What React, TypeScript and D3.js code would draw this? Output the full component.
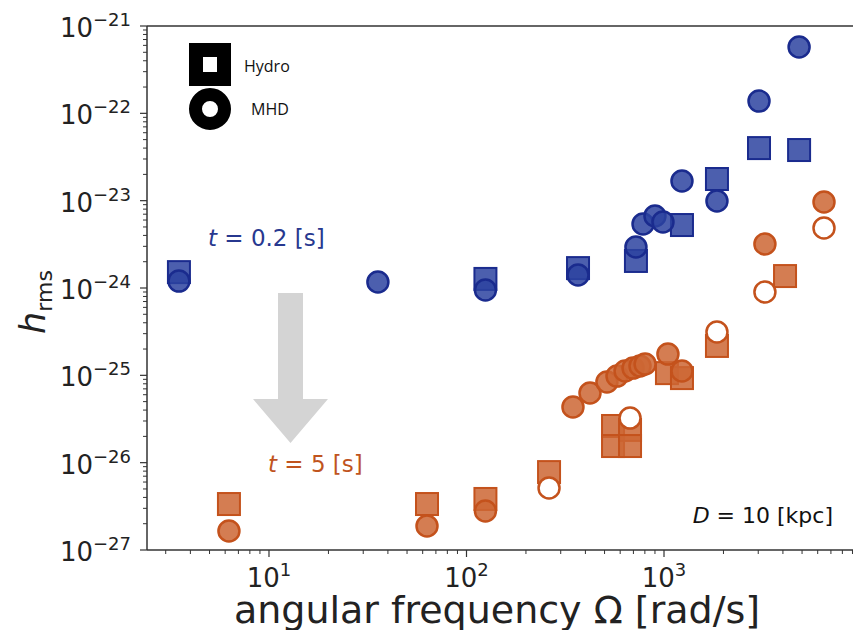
import React from "react";
import * as d3 from "d3";

// ---- Data ----
// [angular frequency Ω (rad/s), h_rms]
const blueHydro: [number, number][] = [
  [3.5, 1.52e-24], [124.7, 1.27e-24], [367, 1.69e-24], [721, 2.04e-24],
  [1233, 5.26e-24], [1854, 1.77e-23], [3027, 4.0e-23], [4830, 3.8e-23],
];
const blueMHD: [number, number][] = [
  [3.5, 1.2e-24], [35.6, 1.17e-24], [124.7, 9.5e-25], [367, 1.41e-24],
  [721, 2.95e-24], [783, 5.4e-24], [900, 6.67e-24], [988, 5.7e-24],
  [1233, 1.68e-23], [1854, 9.9e-24], [3027, 1.38e-22], [4830, 5.75e-22],
];
const orangeHydro: [number, number][] = [
  [6.27, 3.36e-27], [63.1, 3.36e-27], [124.7, 3.84e-27], [261.8, 7.8e-27],
  [552, 2.63e-26], [552, 1.55e-26], [673, 2.37e-26], [673, 1.55e-26],
  [1035, 1.06e-25], [1233, 9.3e-26], [1854, 2.17e-25], [4100, 1.37e-24],
];
const orangeMHD: [number, number][] = [
  [6.27, 1.65e-27], [63.1, 1.88e-27], [124.7, 2.8e-27], [346, 4.34e-26],
  [422, 6.28e-26], [514, 8.4e-26], [578, 9.8e-26], [635, 1.12e-25],
  [697, 1.21e-25], [756, 1.28e-25], [802, 1.35e-25], [1047, 1.75e-25],
  [1233, 1.12e-25], [3243, 3.19e-24], [6457, 9.66e-24],
];
const orangeMHDOpen: [number, number][] = [
  [261.8, 5.13e-27], [673, 3.24e-26], [1854, 3.13e-25], [3243, 9.0e-25], [6457, 4.86e-24],
];
const yTickExps = [-27, -26, -25, -24, -23, -22, -21];
const xTickExps = [1, 2, 3];

const BLUE_FILL = "#2d43a0";
const BLUE_EDGE = "#1a2b8e";
const OR_FILL = "#cc6634";
const OR_EDGE = "#c4521c";
const FONT = "'DejaVu Sans', sans-serif";

export default function App() {
  const W = 853, H = 630;
  const left = 147, right = 870, top = 26, bottom = 550;
  const x = d3.scaleLog().domain([2.412, 11040]).range([left, right]);
  const y = d3.scaleLog().domain([1e-27, 1e-21]).range([bottom, top]);

  const xMinor: number[] = [];
  for (let e = 0; e <= 4; e++) for (let m = 2; m <= 9; m++) {
    const v = m * Math.pow(10, e);
    if (v >= 2.412 && v <= 11040) xMinor.push(v);
  }
  const yMinor: number[] = [];
  for (let e = -27; e < -21; e++) for (let m = 2; m <= 9; m++) yMinor.push(m * Math.pow(10, e));

  const S = 22; // marker size
  const r = 11;

  const squares = (data: [number, number][], fill: string, edge: string, key: string) =>
    data.map((d, i) => (
      <rect key={key + i} x={x(d[0]) - S / 2} y={y(d[1]) - S / 2} width={S} height={S}
        fill={fill} stroke={edge} strokeWidth={2} fillOpacity={0.85} />
    ));
  const circles = (data: [number, number][], fill: string, edge: string, key: string, op = 0.85) =>
    data.map((d, i) => (
      <circle key={key + i} cx={x(d[0])} cy={y(d[1])} r={r - 0.5}
        fill={fill} stroke={edge} strokeWidth={2.5} fillOpacity={op} />
    ));

  // arrow (annotation) in data coordinates
  const ax = x(12.85);
  const aTop = y(8.77e-25), aBase = y(5.36e-26), aTip = y(1.68e-26);

  return (
    <div style={{ position: "absolute", left: 0, top: 0 }}>
      <svg width={W} height={H} style={{ display: "block", background: "#fff" }}>
        <defs>
          <clipPath id="plotclip">
            <rect x={left} y={top} width={right - left} height={bottom - top} />
          </clipPath>
        </defs>

        {/* arrow */}
        <path d={`M${ax - 12.5},${aTop} L${ax + 12.5},${aTop} L${ax + 12.5},${aBase} L${ax + 37.5},${aBase} L${ax},${aTip} L${ax - 37.5},${aBase} L${ax - 12.5},${aBase} Z`}
          fill="#d4d4d4" />

        <g clipPath="url(#plotclip)">
          {squares(blueHydro, BLUE_FILL, BLUE_EDGE, "bh")}
          {circles(blueMHD, BLUE_FILL, BLUE_EDGE, "bm")}
          {squares(orangeHydro, OR_FILL, OR_EDGE, "oh")}
          {circles(orangeMHD, OR_FILL, OR_EDGE, "om")}
          {circles(orangeMHDOpen, "#ffffff", OR_EDGE, "oo", 1)}
        </g>

        {/* spines */}
        <line x1={left} x2={W} y1={top} y2={top} stroke="#333" strokeWidth={1.5} />
        <line x1={left} x2={W} y1={bottom} y2={bottom} stroke="#333" strokeWidth={1.5} />
        <line x1={left} x2={left} y1={top} y2={bottom} stroke="#333" strokeWidth={1.5} />

        {/* y ticks */}
        {yMinor.map((v, i) => (
          <line key={"ym" + i} x1={left - 4} x2={left} y1={y(v)} y2={y(v)} stroke="#333" strokeWidth={1} />
        ))}
        {yTickExps.map((e) => {
          const yy = y(Math.pow(10, e));
          return (
            <g key={"yt" + e}>
              <line x1={left - 7} x2={left} y1={yy} y2={yy} stroke="#333" strokeWidth={1.2} />
              <text x={131} y={yy + 11} textAnchor="end" fontFamily={FONT} fontSize={26} fill="#222">
                10<tspan fontSize={18} dy={-11}>{"\u2212" + Math.abs(e)}</tspan>
              </text>
            </g>
          );
        })}

        {/* x ticks */}
        {xMinor.map((v, i) => (
          <line key={"xm" + i} x1={x(v)} x2={x(v)} y1={bottom} y2={bottom + 4} stroke="#333" strokeWidth={1} />
        ))}
        {xTickExps.map((e) => {
          const xx = x(Math.pow(10, e));
          return (
            <g key={"xt" + e}>
              <line x1={xx} x2={xx} y1={bottom} y2={bottom + 7} stroke="#333" strokeWidth={1.2} />
              <text x={xx} y={587} textAnchor="middle" fontFamily={FONT} fontSize={26} fill="#222">
                10<tspan fontSize={18} dy={-11}>{e}</tspan>
              </text>
            </g>
          );
        })}

        {/* axis labels */}
        <text x={497} y={623} textAnchor="middle" fontFamily={FONT} fontSize={38} fill="#222">
          angular frequency Ω [rad/s]
        </text>
        <text transform="translate(45,302) rotate(-90)" textAnchor="middle" fontFamily={FONT} fontSize={35} fill="#222">
          <tspan fontStyle="italic">h</tspan>
          <tspan fontSize={22} dy={7}>rms</tspan>
        </text>

        {/* annotations */}
        <text x={208} y={246} fontFamily={FONT} fontSize={23} fill="#27388f">
          <tspan fontStyle="italic">t</tspan> = 0.2 [s]
        </text>
        <text x={268} y={472} fontFamily={FONT} fontSize={23} fill="#c0541e">
          <tspan fontStyle="italic">t</tspan> = 5 [s]
        </text>
        <text x={833} y={523} textAnchor="end" fontFamily={FONT} fontSize={22} fill="#111">
          <tspan fontStyle="italic">D</tspan> = 10 [kpc]
        </text>

        {/* legend */}
        <rect x={196} y={50} width={28} height={29} fill="#fff" stroke="#000" strokeWidth={14} />
        <circle cx={210} cy={109} r={14.5} fill="#fff" stroke="#000" strokeWidth={13} />
        <text x={244} y={72} fontFamily="'Open Sans', sans-serif" fontSize={16} fill="#111">Hydro</text>
        <text x={251} y={115} fontFamily="'Open Sans', sans-serif" fontSize={16} fill="#111">MHD</text>
      </svg>
    </div>
  );
}
